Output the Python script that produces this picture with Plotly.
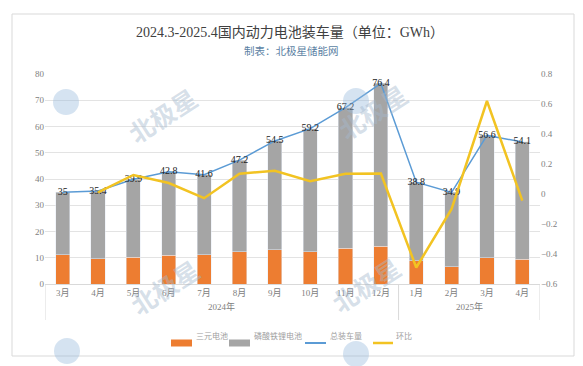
import plotly.graph_objects as go

months = ["3月", "4月", "5月", "6月", "7月", "8月", "9月", "10月", "11月", "12月",
          "1月", "2月", "3月", "4月"]
year_labels = ["2024年", "2025年"]
year_groups = [10, 4]
ternary = [11.2, 9.6, 10.1, 10.9, 11.2, 12.2, 13.0, 12.3, 13.6, 14.4, 8.9, 6.6, 10.0, 9.5]
lfp = [23.8, 25.8, 29.8, 31.9, 30.4, 35.0, 41.5, 46.9, 53.6, 62.0, 29.9, 28.3, 46.6, 44.6]
total = [35, 35.4, 39.9, 42.8, 41.6, 47.2, 54.5, 59.2, 67.2, 76.4, 38.8, 34.9, 56.6, 54.1]
total_labels = ["35", "35.4", "39.9", "42.8", "41.6", "47.2", "54.5", "59.2", "67.2", "76.4",
                "38.8", "34.9", "56.6", "54.1"]
mom = [None, 0.011, 0.127, 0.073, -0.028, 0.135, 0.155, 0.086, 0.135, 0.137,
       -0.49, -0.10, 0.62, -0.044]

W, H = 583, 366
L, R, T, B = 45, 43, 74, 82
xs = list(range(len(months)))

SERIF = "Liberation Serif, Noto Sans CJK SC, serif"
ORANGE, GRAY, BLUE, YELLOW = "#ED7D31", "#A5A5A5", "#5B9BD5", "#F2C322"
TXT = "#808080"

fig = go.Figure()
fig.add_trace(go.Bar(x=xs, y=ternary, name="三元电池", marker_color=ORANGE, width=0.4))
fig.add_trace(go.Bar(x=xs, y=lfp, name="磷酸铁锂电池", marker_color=GRAY, width=0.4))
fig.add_trace(go.Scatter(x=xs, y=total, name="总装车量", mode="lines+text",
                         line=dict(color=BLUE, width=1.5),
                         text=total_labels, textposition="middle center",
                         textfont=dict(family=SERIF, size=10, color="#222222")))
fig.add_trace(go.Scatter(x=xs, y=mom, name="环比", mode="lines", yaxis="y2",
                         line=dict(color=YELLOW, width=2.5)))


def px(xp):
    return (xp - L) / (W - L - R)


def py(yp):
    return (H - B - yp) / (H - T - B)


shapes = [dict(type="rect", xref="paper", yref="paper",
               x0=px(12), x1=px(574), y0=py(356), y1=py(14),
               line=dict(color="#D9D9D9", width=1), layer="below")]

annotations = [
    dict(text="2024.3-2025.4国内动力电池装车量（单位：GWh）", xref="paper", yref="paper",
         x=px(290), y=py(22), showarrow=False, font=dict(family=SERIF, size=14, color="#404040")),
    dict(text="制表：北极星储能网", xref="paper", yref="paper",
         x=px(291), y=py(43), showarrow=False, font=dict(family=SERIF, size=10.5, color="#5B7FA3")),
]

# x-axis group dividers and year labels
start = 0
bounds = [-0.5]
for lab, n in zip(year_labels, year_groups):
    annotations.append(dict(text=lab, xref="x", yref="paper", x=start + (n - 1) / 2, y=py(314),
                            showarrow=False, font=dict(family=SERIF, size=9, color=TXT)))
    start += n
    bounds.append(start - 0.5)
for b in bounds:
    shapes.append(dict(type="line", xref="x", yref="paper", x0=b, x1=b, y0=0, y1=py(320),
                       line=dict(color="#D9D9D9", width=1)))

# custom legend
leg_y = 343
legend_items = [("rect", ORANGE, 171, 192, "三元电池", 194),
                ("rect", GRAY, 229, 250, "磷酸铁锂电池", 252),
                ("line", BLUE, 305, 326, "总装车量", 328),
                ("line", YELLOW, 373, 393, "环比", 394)]
for kind, col, a, b, lab, tx in legend_items:
    if kind == "rect":
        shapes.append(dict(type="rect", xref="paper", yref="paper",
                           x0=px(a), x1=px(b), y0=py(leg_y + 3.5), y1=py(leg_y - 3.5),
                           fillcolor=col, line=dict(width=0)))
    else:
        shapes.append(dict(type="line", xref="paper", yref="paper",
                           x0=px(a), x1=px(b), y0=py(leg_y), y1=py(leg_y),
                           line=dict(color=col, width=2 if col == BLUE else 2.5)))
    annotations.append(dict(text=lab, xref="paper", yref="paper", x=px(tx), y=py(leg_y),
                            xanchor="left", showarrow=False,
                            font=dict(family=SERIF, size=8, color="#A0A0A0")))

# watermarks
for (tx, ty), (cx, cy) in [((118, 77), (66, 102)), ((417, 73), (356, 101)),
                           ((120, 325), (67, 351)), ((410, 322), (356, 354))]:
    annotations.append(dict(text="<b>北极星</b>", xref="paper", yref="paper",
                            x=px(tx), y=py(ty), showarrow=False, textangle=-33,
                            font=dict(family="Noto Sans CJK SC", size=25,
                                      color="rgba(165,185,205,0.45)")))
    shapes.append(dict(type="circle", xref="paper", yref="paper",
                       x0=px(cx - 13), x1=px(cx + 13), y0=py(cy + 13), y1=py(cy - 13),
                       fillcolor="rgba(150,185,220,0.4)", line=dict(width=0), layer="above"))

fig.update_layout(
    width=W, height=H,
    margin=dict(l=L, r=R, t=T, b=B),
    paper_bgcolor="white", plot_bgcolor="white",
    barmode="stack",
    font=dict(family=SERIF, color=TXT, size=9),
    showlegend=False,
    xaxis=dict(range=[-0.5, len(months) - 0.5], tickmode="array", tickvals=xs, ticktext=months,
               showgrid=False, showline=True, linecolor="#D9D9D9", ticks="", zeroline=False,
               tickfont=dict(family=SERIF, size=9, color=TXT)),
    yaxis=dict(range=[0, 80], dtick=10, showgrid=True, gridcolor="#E3E3E3", gridwidth=1,
               zeroline=False, showline=False, ticks="",
               tickfont=dict(family=SERIF, size=9, color=TXT)),
    yaxis2=dict(range=[-0.6, 0.8], dtick=0.2, overlaying="y", side="right", showgrid=False,
                zeroline=False, showline=False, tickformat=".1~f",
                tickfont=dict(family=SERIF, size=9, color=TXT)),
    shapes=shapes,
    annotations=annotations,
)

fig.write_html("out.html", config={"displayModeBar": False},
               post_script="document.body.style.margin='0';document.body.style.overflow='hidden';")
